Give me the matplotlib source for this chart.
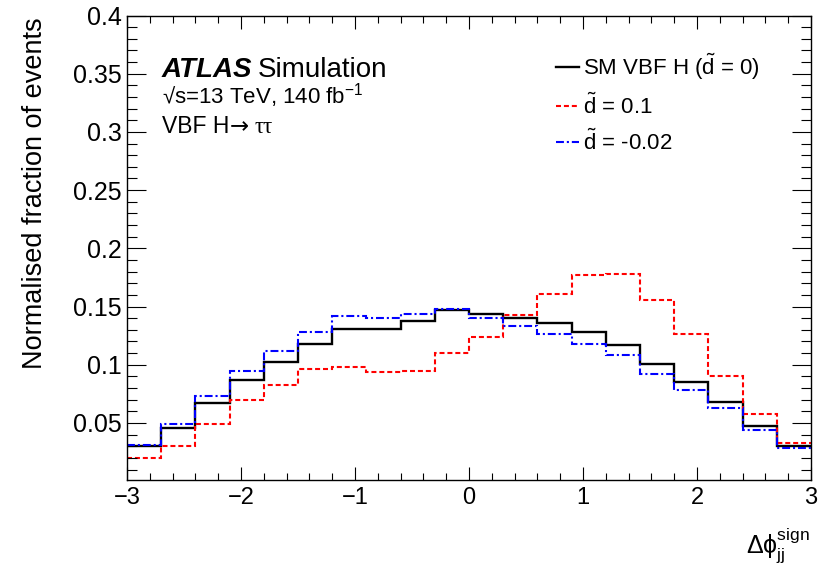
import numpy as np
import matplotlib
matplotlib.use('Agg')
import matplotlib.pyplot as plt
from matplotlib.ticker import MultipleLocator, FuncFormatter

plt.rcParams['font.family'] = ['Liberation Sans', 'DejaVu Sans']
plt.rcParams['mathtext.fontset'] = 'custom'
plt.rcParams['mathtext.rm'] = 'Liberation Sans'
plt.rcParams['mathtext.it'] = 'Liberation Sans:italic'
plt.rcParams['mathtext.bf'] = 'Liberation Sans:bold'

# binning in delta phi_jj (signed), 20 bins of 0.3
bin_edges = np.linspace(-3, 3, 21)

# normalised fractions per bin
sm_values = [0.030, 0.046, 0.067, 0.087, 0.102, 0.118, 0.131, 0.131, 0.138, 0.147,
             0.144, 0.140, 0.136, 0.128, 0.117, 0.101, 0.085, 0.068, 0.047, 0.030]
d01_values = [0.0195, 0.0305, 0.049, 0.070, 0.083, 0.096, 0.098, 0.0935, 0.095, 0.110,
              0.124, 0.143, 0.161, 0.177, 0.178, 0.156, 0.126, 0.090, 0.058, 0.0325]
dm002_values = [0.031, 0.049, 0.073, 0.095, 0.112, 0.128, 0.142, 0.140, 0.144, 0.148,
                0.140, 0.133, 0.126, 0.118, 0.108, 0.092, 0.078, 0.063, 0.044, 0.0285]

series_labels = [r'SM VBF H ($\tilde{\mathrm{d}}$ = 0)',
                 r'$\tilde{\mathrm{d}}$ = 0.1',
                 r'$\tilde{\mathrm{d}}$ = -0.02']

W, H = 828, 573
fig = plt.figure(figsize=(W / 100, H / 100), dpi=100)
ax = fig.add_axes([127 / W, (H - 480) / H, 684 / W, 464.5 / H])

ax.stairs(sm_values, bin_edges, baseline=None, color='black', lw=1.7,
          label=series_labels[0])
ax.stairs(d01_values, bin_edges, baseline=None, color='#ff0000', lw=1.5,
          linestyle=(0, (2.4, 1.4)), label=series_labels[1])
ax.stairs(dm002_values, bin_edges, baseline=None, color='#0000ff', lw=1.5,
          linestyle=(0, (3.8, 1.4, 1.0, 1.4)), label=series_labels[2])

ax.set_xlim(-3, 3)
ax.set_ylim(0.001, 0.4)

# ROOT-like ticks
ax.xaxis.set_major_locator(MultipleLocator(1))
ax.xaxis.set_minor_locator(MultipleLocator(0.2))
ax.yaxis.set_major_locator(MultipleLocator(0.05))
ax.yaxis.set_minor_locator(MultipleLocator(0.01))
ax.yaxis.set_major_formatter(FuncFormatter(lambda v, p: f'{v:g}' if v > 0.01 else ''))
ax.tick_params(which='both', direction='in', top=True, right=True, width=0.8)
ax.tick_params(axis='x', which='major', length=9.5, pad=5, labelsize=17)
ax.tick_params(axis='x', which='minor', length=5)
ax.tick_params(axis='y', which='major', length=14, pad=4, labelsize=18)
ax.tick_params(axis='y', which='minor', length=7)
for sp in ax.spines.values():
    sp.set_linewidth(1.0)

ax.set_ylabel('Normalised fraction of events', fontsize=19.5, loc='top')
ax.yaxis.set_label_coords(-0.115, 0.995)

fig.text(810 / W, 1 - 553 / H, r'$\Delta\mathrm{\phi}^{\mathrm{sign}}_{\mathrm{jj}}$',
         fontsize=18, ha='right', va='baseline')

# ATLAS label
fig.text(162 / W, 1 - 77 / H, 'ATLAS', fontsize=20, fontweight='bold',
         fontstyle='italic', va='baseline')
fig.text(258 / W, 1 - 77 / H, 'Simulation', fontsize=20, va='baseline')
fig.text(162 / W, 1 - 104 / H, '√s=13 TeV, 140 fb$^{\\mathrm{-1}}$',
         fontsize=16, va='baseline')
fig.text(162 / W, 1 - 133 / H, 'VBF H', fontsize=16.5, va='baseline')
fig.text(230 / W, 1 - 133 / H, '→', fontsize=16.5, va='baseline',
         family=['DejaVu Sans'])
fig.text(255 / W, 1 - 133 / H, 'ττ', fontsize=16.5, va='baseline',
         family=['Liberation Serif', 'DejaVu Serif'])

ax.legend(loc='upper left', bbox_to_anchor=(556 / W, 1 - 52 / H),
          bbox_transform=fig.transFigure, frameon=False, fontsize=16,
          handlelength=1.05, handletextpad=0.15, labelspacing=0.5,
          borderaxespad=0, borderpad=0)

fig.savefig('out.png', dpi=100)
